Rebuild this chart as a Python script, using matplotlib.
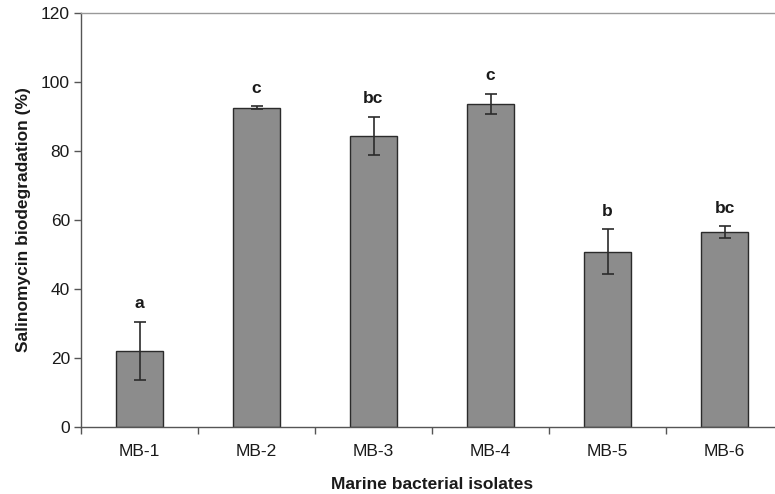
import matplotlib
matplotlib.use("Agg")
import matplotlib.pyplot as plt
import numpy as np

categories = ["MB-1", "MB-2", "MB-3", "MB-4", "MB-5", "MB-6"]
values = [22.1, 92.5, 84.4, 93.6, 50.8, 56.5]
errors = [8.4, 0.4, 5.5, 3.0, 6.5, 1.75]
letters = ["a", "c", "bc", "c", "b", "bc"]
yticks = [0, 20, 40, 60, 80, 100, 120]

plt.rcParams['font.family'] = ['Liberation Sans', 'DejaVu Sans']

fig = plt.figure(figsize=(7.75, 4.94), dpi=100)
W, H = 775, 494
left, right, bottom, top = 81, 783, 427, 13
ax = fig.add_axes([left / W, (H - bottom) / H, (right - left) / W, (bottom - top) / H])

x = np.arange(len(categories))
ax.bar(x, values, width=0.4, color="#8c8c8c", edgecolor="#2b2b2b", linewidth=1.0, zorder=2)
ax.errorbar(x, values, yerr=errors, fmt="none", ecolor="#2b2b2b", elinewidth=1.2,
            capsize=4.5, capthick=1.2, zorder=3)
for xi, v, e, t in zip(x, values, errors, letters):
    ax.text(xi, v + e + 3.0, t, ha="center", va="bottom", fontsize=12.5, fontweight="bold", color="#1a1a1a")

ax.set_xlim(-0.5, len(categories) - 0.5)
ax.set_ylim(0, 120)
ax.set_yticks(yticks)
ax.set_yticklabels([str(t) for t in yticks], fontsize=12.5, color="#1a1a1a")
ax.set_xticks(x)
ax.set_xticklabels(categories, fontsize=12.5, color="#1a1a1a")
ax.set_xticks(np.arange(-0.5, len(categories) + 0.5, 1.0), minor=True)
ax.tick_params(axis="x", which="major", length=0, pad=12)
ax.tick_params(axis="x", which="minor", length=5, direction="out", color="#555555", width=1)
ax.tick_params(axis="y", length=5, direction="out", color="#555555", width=1, pad=3)

for s in ["left", "bottom"]:
    ax.spines[s].set_color("#555555")
    ax.spines[s].set_linewidth(1.0)
ax.spines["top"].set_color("#999999")
ax.spines["top"].set_linewidth(1.0)
ax.spines["right"].set_visible(False)

ax.set_xlabel("Marine bacterial isolates", fontsize=12.5, fontweight="bold", labelpad=13, color="#1a1a1a")
ax.set_ylabel("Salinomycin biodegradation (%)", fontsize=12.5, fontweight="bold", labelpad=7, color="#1a1a1a")

fig.savefig("out.png", dpi=100)
